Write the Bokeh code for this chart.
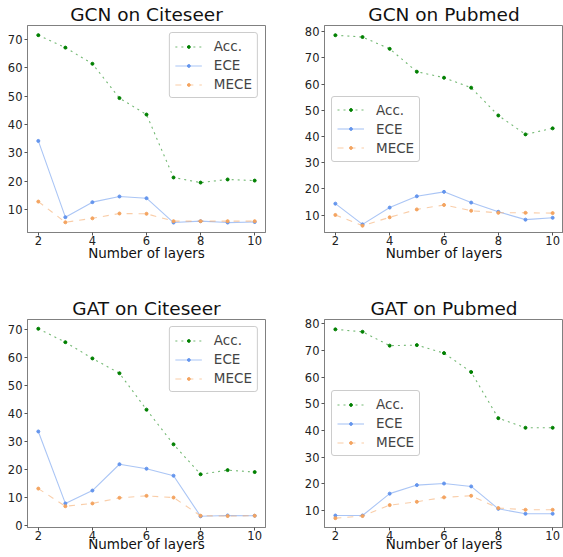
from bokeh.plotting import figure
from bokeh.layouts import column, row
from bokeh.models import Range1d, FixedTicker, Legend, LegendItem
from bokeh.embed import file_html
from bokeh.resources import INLINE

layers = [2, 3, 4, 5, 6, 7, 8, 9, 10]

gcn_cite_acc = [71.5, 67.1, 61.4, 49.3, 43.5, 21.3, 19.5, 20.6, 20.2]
gcn_cite_ece = [34.2, 7.3, 12.6, 14.6, 14.0, 5.4, 5.9, 5.4, 5.6]
gcn_cite_mece = [12.8, 5.5, 6.9, 8.6, 8.5, 5.9, 5.9, 5.9, 5.9]

gcn_pub_acc = [78.6, 77.9, 73.4, 64.7, 62.4, 58.6, 48.0, 40.8, 43.1]
gcn_pub_ece = [14.4, 6.5, 12.9, 17.2, 18.9, 14.8, 11.3, 8.3, 9.0]
gcn_pub_mece = [10.1, 6.0, 9.2, 12.2, 13.9, 11.7, 10.9, 10.9, 10.8]

gat_cite_acc = [70.2, 65.4, 59.6, 54.3, 41.3, 28.9, 18.2, 19.7, 19.0]
gat_cite_ece = [33.5, 7.8, 12.4, 21.8, 20.2, 17.7, 3.2, 3.5, 3.4]
gat_cite_mece = [13.1, 6.8, 7.8, 9.8, 10.5, 9.9, 3.4, 3.3, 3.4]

gat_pub_acc = [77.9, 77.0, 71.8, 72.0, 69.0, 61.9, 44.6, 41.0, 41.0]
gat_pub_ece = [8.1, 8.1, 16.3, 19.5, 20.1, 19.0, 10.6, 8.75, 8.75]
gat_pub_mece = [7.1, 7.9, 12.0, 13.25, 14.9, 15.5, 10.9, 10.25, 10.25]

titles = ["GCN on Citeseer", "GCN on Pubmed", "GAT on Citeseer", "GAT on Pubmed"]
series_labels = ["Acc.", "ECE", "MECE"]
x_ticks = [2, 4, 6, 8, 10]
y_ticks = [
    [10, 20, 30, 40, 50, 60, 70],
    [10, 20, 30, 40, 50, 60, 70, 80],
    [0, 10, 20, 30, 40, 50, 60, 70],
    [10, 20, 30, 40, 50, 60, 70, 80],
]
y_ranges = [(1.9, 74.9), (3.4, 82.3), (-0.8, 73.5), (3.6, 81.6)]
x_label = "Number of layers"

colors = ["#008000", "#6495ED", "#F4A460"]
dashes = ["dotted", "solid", "dashed"]
FONT = "DejaVu Sans"


def make_panel(idx, data, w, h, borders, legend_loc, label_standoff):
    p = figure(width=w, height=h, output_backend="svg", toolbar_location=None,
               x_range=Range1d(1.6, 10.4), y_range=Range1d(*y_ranges[idx]),
               min_border_left=borders[0], min_border_right=borders[1],
               min_border_top=borders[2], min_border_bottom=borders[3])
    p.title.text = titles[idx]
    p.title.text_font = FONT
    p.title.text_font_size = "18.5px"
    p.title.text_font_style = "normal"
    p.title.text_color = "#111111"
    p.title.align = "center"
    p.title.standoff = 1
    p.title.offset = 0
    p.xgrid.visible = False
    p.ygrid.visible = False
    p.outline_line_color = "#808080"
    p.outline_line_width = 1
    p.background_fill_color = "white"
    p.border_fill_color = "white"
    for ax in (p.xaxis[0], p.yaxis[0]):
        ax.axis_line_color = "#808080"
        ax.major_tick_line_color = "#555555"
        ax.major_tick_out = 3
        ax.major_tick_in = 0
        ax.minor_tick_line_color = None
        ax.major_label_text_font = FONT
        ax.major_label_text_font_size = "11.5px"
        ax.major_label_text_color = "#222222"
        ax.major_label_standoff = 2
    p.xaxis.major_label_standoff = 0
    p.xaxis.ticker = FixedTicker(ticks=x_ticks)
    p.yaxis.ticker = FixedTicker(ticks=y_ticks[idx])
    p.xaxis.axis_label = x_label
    p.xaxis.axis_label_text_font = FONT
    p.xaxis.axis_label_text_font_size = "13.5px"
    p.xaxis.axis_label_text_font_style = "normal"
    p.xaxis.axis_label_text_color = "#111111"
    p.xaxis.axis_label_standoff = label_standoff

    items = []
    for k in range(3):
        ln = p.line(layers, data[k], line_color=colors[k], line_alpha=0.55,
                    line_width=1.1, line_dash=dashes[k])
        sc = p.scatter(layers, data[k], marker="circle", size=3,
                       fill_color=colors[k], line_color=colors[k])
        items.append(LegendItem(label=series_labels[k], renderers=[ln, sc]))
    leg = Legend(items=items, location=legend_loc, margin=7, padding=5,
                 spacing=3, glyph_width=27, glyph_height=7, label_height=16,
                 label_standoff=12, label_text_font=FONT,
                 label_text_font_size="13.5px", border_line_color="#cccccc",
                 border_line_alpha=1, background_fill_alpha=0.85,
                 border_radius=3)
    p.add_layout(leg, "center")
    return p


p1 = make_panel(0, [gcn_cite_acc, gcn_cite_ece, gcn_cite_mece], 282, 280,
                (27, 17, 25, 48), "top_right", -3)
p2 = make_panel(1, [gcn_pub_acc, gcn_pub_ece, gcn_pub_mece], 281, 280,
                (42, 0, 25, 48), "center_left", -3)
p3 = make_panel(2, [gat_cite_acc, gat_cite_ece, gat_cite_mece], 282, 277,
                (27, 17, 39, 28), "top_right", -7)
p4 = make_panel(3, [gat_pub_acc, gat_pub_ece, gat_pub_mece], 281, 277,
                (42, 0, 39, 30), "center_left", -7)

layout = column(row(p1, p2), row(p3, p4))
open("out.html", "w").write(file_html(layout, INLINE))
